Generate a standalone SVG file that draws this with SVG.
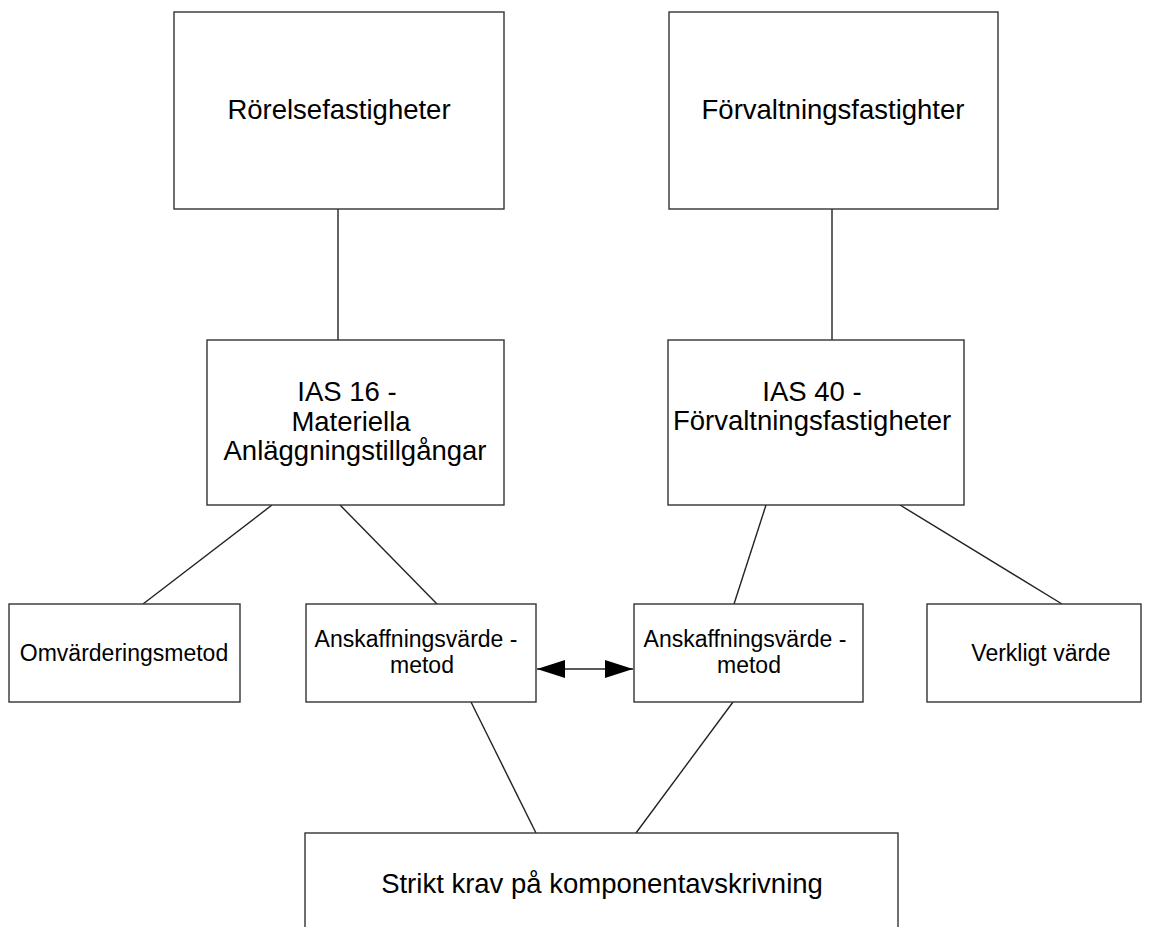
<svg xmlns="http://www.w3.org/2000/svg" width="1149" height="927" viewBox="0 0 1149 927">
<style>
.box{fill:#fff;stroke:#333;stroke-width:1.4}
.ln{fill:none;stroke:#222;stroke-width:1.4}
.big{font-family:"Liberation Sans",Arial,sans-serif;font-size:27.5px;fill:#000;text-anchor:middle}
.sm{font-family:"Liberation Sans",Arial,sans-serif;font-size:23px;fill:#000;text-anchor:middle}
</style>
<defs>
<marker id="ah" viewBox="0 0 28 18" refX="28" refY="9" markerWidth="28" markerHeight="18" markerUnits="userSpaceOnUse" orient="auto-start-reverse">
<path d="M0,0 L28,9 L0,18 Z" fill="#000"/>
</marker>
</defs>
<rect width="1149" height="927" fill="#fff"/>
<g id="connectors">
<line class="ln" x1="338" y1="209" x2="338" y2="340"/>
<line class="ln" x1="832" y1="209" x2="832" y2="340"/>
<line class="ln" x1="272" y1="505" x2="143" y2="604"/>
<line class="ln" x1="340" y1="505" x2="437" y2="604"/>
<line class="ln" x1="766" y1="505" x2="734" y2="604"/>
<line class="ln" x1="900" y1="505" x2="1062" y2="604"/>
<line class="ln" x1="471" y1="702" x2="536" y2="833"/>
<line class="ln" x1="733" y1="702" x2="636" y2="833"/>
<line class="ln" x1="537" y1="669" x2="633" y2="669" marker-start="url(#ah)" marker-end="url(#ah)"/>
</g>
<g id="n-rorelse">
<rect class="box" x="174" y="12" width="330" height="197"/>
<text class="big" x="339" y="119">Rörelsefastigheter</text>
</g>
<g id="n-forvaltning">
<rect class="box" x="669" y="12" width="329" height="197"/>
<text class="big" x="833" y="119">Förvaltningsfastighter</text>
</g>
<g id="n-ias16">
<rect class="box" x="207" y="340" width="297" height="165"/>
<text class="big"><tspan x="347" y="401">IAS 16 -</tspan><tspan x="351" y="431">Materiella</tspan><tspan x="355" y="460">Anläggningstillgångar</tspan></text>
</g>
<g id="n-ias40">
<rect class="box" x="668" y="340" width="296" height="165"/>
<text class="big"><tspan x="812" y="401">IAS 40 -</tspan><tspan x="812" y="430">Förvaltningsfastigheter</tspan></text>
</g>
<g id="n-omv">
<rect class="box" x="9" y="604" width="231" height="98"/>
<text class="sm" x="124" y="661">Omvärderingsmetod</text>
</g>
<g id="n-ansk1">
<rect class="box" x="306" y="604" width="230" height="98"/>
<text class="sm"><tspan x="416" y="647">Anskaffningsvärde -</tspan><tspan x="422" y="673">metod</tspan></text>
</g>
<g id="n-ansk2">
<rect class="box" x="634" y="604" width="229" height="98"/>
<text class="sm"><tspan x="745" y="647">Anskaffningsvärde -</tspan><tspan x="749" y="673">metod</tspan></text>
</g>
<g id="n-verkligt">
<rect class="box" x="927" y="604" width="214" height="98"/>
<text class="sm" x="1041" y="661">Verkligt värde</text>
</g>
<g id="n-strikt">
<rect class="box" x="305" y="833" width="593" height="120"/>
<text class="big" x="602" y="893">Strikt krav på komponentavskrivning</text>
</g>
</svg>
